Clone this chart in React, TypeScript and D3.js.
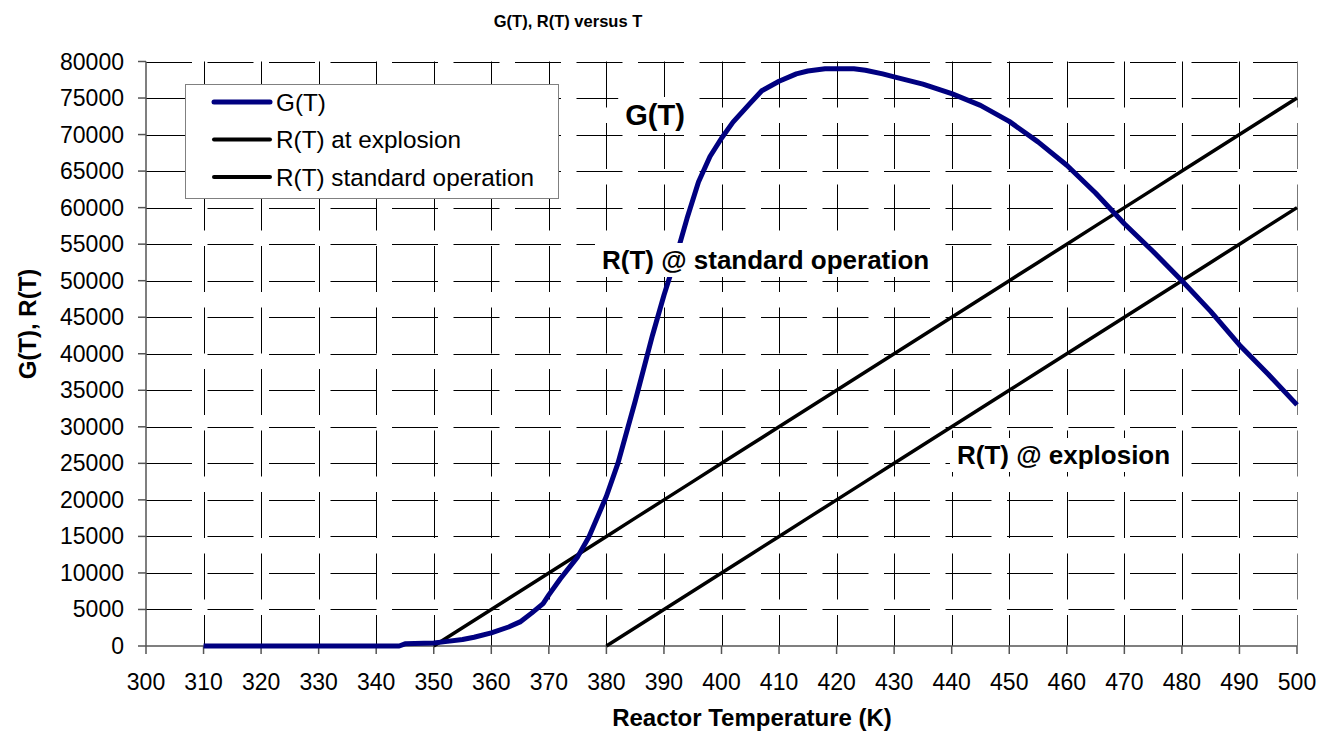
import React, { useRef, useEffect } from 'react';
import * as d3 from 'd3';

// G(T): heat generation curve
const gTemps = [310, 320, 330, 340, 344, 345, 350, 352, 355, 357, 360, 363, 365, 367, 369, 370, 372, 375, 377, 380, 382, 385, 387, 388, 390, 392, 394, 396, 398, 400, 402, 405, 407, 410, 413, 415, 418, 420, 423, 425, 428, 430, 435, 440, 445, 450, 455, 460, 465, 470, 475, 480, 485, 490, 495, 500];
const gValues = [0, 0, 0, 0, 0, 300, 400, 600, 900, 1200, 1800, 2600, 3300, 4500, 5800, 7000, 9200, 12200, 15000, 20500, 25000, 33500, 39500, 42500, 48000, 53000, 58500, 63500, 67000, 69500, 71700, 74300, 76000, 77300, 78300, 78700, 79000, 79000, 79000, 78800, 78300, 77900, 76900, 75600, 74000, 71800, 69000, 65800, 62000, 57800, 54000, 50000, 45800, 41200, 37200, 33000];

// R(T) standard operation
const rStdTemps = [350, 355, 360, 365, 370, 375, 380, 385, 390, 395, 400, 405, 410, 415, 420, 425, 430, 435, 440, 445, 450, 455, 460, 465, 470, 475, 480, 485, 490, 495, 500];
const rStdValues = [0, 2500, 5000, 7500, 10000, 12500, 15000, 17500, 20000, 22500, 25000, 27500, 30000, 32500, 35000, 37500, 40000, 42500, 45000, 47500, 50000, 52500, 55000, 57500, 60000, 62500, 65000, 67500, 70000, 72500, 75000];

// R(T) at explosion
const rExpTemps = [380, 385, 390, 395, 400, 405, 410, 415, 420, 425, 430, 435, 440, 445, 450, 455, 460, 465, 470, 475, 480, 485, 490, 495, 500];
const rExpValues = [0, 2500, 5000, 7500, 10000, 12500, 15000, 17500, 20000, 22500, 25000, 27500, 30000, 32500, 35000, 37500, 40000, 42500, 45000, 47500, 50000, 52500, 55000, 57500, 60000];

const xTicks = [300, 310, 320, 330, 340, 350, 360, 370, 380, 390, 400, 410, 420, 430, 440, 450, 460, 470, 480, 490, 500];
const yTicks = [0, 5000, 10000, 15000, 20000, 25000, 30000, 35000, 40000, 45000, 50000, 55000, 60000, 65000, 70000, 75000, 80000];

const legendItems = [
  { label: 'G(T)', color: '#000080', width: 5 },
  { label: 'R(T) at explosion', color: '#000000', width: 4 },
  { label: 'R(T) standard operation', color: '#000000', width: 4 },
];

const W = 1333;
const H = 732;
const FONT = '"Liberation Sans", Arial, sans-serif';

const App: React.FC = () => {
  const ref = useRef<SVGSVGElement>(null);

  useEffect(() => {
    if (!ref.current) return;
    const svg = d3.select(ref.current);
    svg.selectAll('*').remove();

    const x = d3.scaleLinear().domain([300, 500]).range([146, 1297]);
    const y = d3.scaleLinear().domain([0, 80000]).range([646, 61.5]);
    const [x0, x1] = x.range();
    const [y0, y1] = y.range();

    svg.append('rect').attr('width', W).attr('height', H).attr('fill', 'white');

    // gridlines (long dash style)
    const grid = svg.append('g').attr('stroke', '#000').attr('stroke-width', 1).attr('stroke-dasharray', '46 15.5');
    grid.selectAll('line.h')
      .data(yTicks.filter(d => d > 0))
      .enter().append('line')
      .attr('x1', x0).attr('x2', x1)
      .attr('y1', d => Math.round(y(d)) + 0.5).attr('y2', d => Math.round(y(d)) + 0.5);
    grid.selectAll('line.v')
      .data(xTicks.filter(d => d > 300))
      .enter().append('line')
      .attr('x1', d => Math.round(x(d)) + 0.5).attr('x2', d => Math.round(x(d)) + 0.5)
      .attr('y1', y1).attr('y2', y0)
      .attr('stroke', d => (d === 500 ? '#777' : '#000'));

    // axes
    const axes = svg.append('g').attr('stroke', '#555').attr('stroke-width', 1.5);
    axes.append('line').attr('x1', x0).attr('x2', x0).attr('y1', y1).attr('y2', y0);
    axes.append('line').attr('x1', x0).attr('x2', x1).attr('y1', y0).attr('y2', y0);
    axes.selectAll('line.yt').data(yTicks).enter().append('line')
      .attr('x1', x0 - 8).attr('x2', x0)
      .attr('y1', d => y(d)).attr('y2', d => y(d));
    axes.selectAll('line.xt').data(xTicks).enter().append('line')
      .attr('x1', d => x(d)).attr('x2', d => x(d))
      .attr('y1', y0).attr('y2', y0 + 8);

    svg.append('g').selectAll('text').data(yTicks).enter().append('text')
      .attr('x', 124).attr('y', d => y(d) + 8)
      .attr('text-anchor', 'end')
      .style('font-family', FONT).style('font-size', '23px')
      .text(d => String(d));
    svg.append('g').selectAll('text').data(xTicks).enter().append('text')
      .attr('x', d => x(d)).attr('y', 690)
      .attr('text-anchor', 'middle')
      .style('font-family', FONT).style('font-size', '23px')
      .text(d => String(d));

    // series
    const line = d3.line<[number, number]>().x(d => x(d[0])).y(d => y(d[1]));
    const draw = (t: number[], v: number[], color: string, w: number) => {
      svg.append('path')
        .datum(t.map((tt, i) => [tt, v[i]] as [number, number]))
        .attr('d', line)
        .attr('fill', 'none')
        .attr('stroke', color)
        .attr('stroke-width', w)
        .attr('stroke-linejoin', 'round');
    };
    draw(rStdTemps, rStdValues, '#000', 3.5);
    draw(rExpTemps, rExpValues, '#000', 3.5);
    draw(gTemps, gValues, '#000080', 5);

    // labels with white boxes
    const label = (tx: number, ty: number, text: string, size: number, anchor: string) => {
      const g = svg.append('g');
      const rect = g.append('rect').attr('fill', 'white');
      const t = g.append('text')
        .attr('x', tx).attr('y', ty)
        .attr('text-anchor', anchor)
        .style('font-family', FONT).style('font-size', `${size}px`).style('font-weight', 'bold')
        .text(text);
      const b = (t.node() as SVGTextElement).getBBox();
      rect.attr('x', b.x - 7).attr('y', b.y - 2).attr('width', b.width + 14).attr('height', b.height + 4);
    };
    label(655, 125, 'G(T)', 29, 'middle');
    label(602, 269, 'R(T) @ standard operation', 26, 'start');
    label(957, 464, 'R(T) @ explosion', 26, 'start');

    // legend
    const lg = svg.append('g');
    lg.append('rect').attr('x', 185.5).attr('y', 84.5).attr('width', 373).attr('height', 114)
      .attr('fill', 'white').attr('stroke', '#808080').attr('stroke-width', 1);
    legendItems.forEach((it, i) => {
      const ry = 102 + i * 37.5;
      lg.append('line').attr('x1', 214).attr('x2', 270).attr('y1', ry).attr('y2', ry)
        .attr('stroke', it.color).attr('stroke-width', it.width).attr('stroke-linecap', 'round');
      lg.append('text').attr('x', 276).attr('y', ry + 8.5)
        .style('font-family', FONT).style('font-size', '24.3px')
        .text(it.label);
    });

    // titles
    svg.append('text').attr('x', 568).attr('y', 27).attr('text-anchor', 'middle')
      .style('font-family', FONT).style('font-size', '16.5px').style('font-weight', 'bold')
      .text('G(T), R(T) versus T');
    svg.append('text').attr('x', 752).attr('y', 726).attr('text-anchor', 'middle')
      .style('font-family', FONT).style('font-size', '24px').style('font-weight', 'bold')
      .text('Reactor Temperature (K)');
    svg.append('text').attr('transform', 'translate(36,324) rotate(-90)').attr('text-anchor', 'middle')
      .style('font-family', FONT).style('font-size', '24px').style('font-weight', 'bold')
      .text('G(T), R(T)');
  }, []);

  return <svg ref={ref} width={W} height={H} style={{ position: 'absolute', left: 0, top: 0 }} />;
};

export default App;
